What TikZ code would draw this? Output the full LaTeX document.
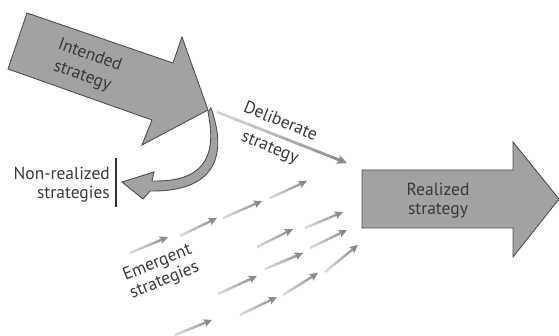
\documentclass[tikz,border=0pt]{standalone}
\usepackage{fontspec}
\setmainfont{PT Sans}
\usetikzlibrary{
  arrows.meta,
  calc,
  positioning
}
\definecolor{stFill}{HTML}{A2A2A2}
\definecolor{stEdge}{HTML}{4E4E4E}
\definecolor{stText}{HTML}{3A3A3A}
\tikzset{
  bigarrow/.style={draw=stEdge, fill=stFill, line width=0.9pt, line join=miter},
  stlabel/.style={font=\fontsize{17.5}{19}\selectfont, text=stText, align=center, inner sep=0pt},
  marker/.style={line width=2pt, black!80}
}
% shaded thin arrow: light tail, darker head
\newcommand{\fadearrow}[3]{%
  \foreach \k in {0,...,6}{%
    \pgfmathtruncatemacro\fadelvl{16+4*\k}%
    \draw[line width=#3, draw=black!\fadelvl] ($(#1)!\k/8!(#2)$) -- ($(#1)!\k/8+1/8!(#2)$);
  }%
  \draw[line width=#3, draw=black!46, fill=black!46, -{Stealth[length=3.4*#3, width=3.2*#3, inset=0.6*#3]}] ($(#1)!7/8!(#2)$) -- (#2);
}

\begin{document}
\begin{tikzpicture}[x=1pt, y=-1pt]
  \useasboundingbox (0,0) rectangle (559,336);

  % big arrows
  \draw[bigarrow] (27,13) -- (173,63) -- (182,37) -- (208,110) -- (142,145) -- (152,120) -- (8,69) -- cycle;
  \draw[bigarrow] (362,170) -- (513,170) -- (513,142) -- (559,199) -- (513,257) -- (513,228) -- (362,228) -- cycle;
  % curl down to the non-realized side
  \draw[bigarrow] (208,112) .. controls (218,160) and (201,182) .. (152,181)
    -- (154,172) -- (122,182) -- (143,199) -- (150,191)
    .. controls (209,192) and (230,162) .. (211,108) -- cycle;
  \draw[marker] (116,158) -- (116,207);

  \node[stlabel, rotate=-20, font=\fontsize{17.5}{22}\selectfont] (intended) at (86,66) {Intended\\strategy};
  \node[stlabel] (realized) at (438,201) {Realized\\strategy};
  \node[stlabel, align=right, anchor=east] (nonreal) at (110,185) {Non-realized\\strategies};
  \node[stlabel, rotate=-22, font=\fontsize{17.5}{28}\selectfont] (deliberate) at (275,135) {Deliberate\\strategy};
  \node[stlabel, rotate=22] (emergent) at (161,272) {Emergent\\strategies};

  \coordinate (delib-s) at (217,112);
  \coordinate (delib-e) at (347,163);
  \fadearrow{delib-s}{delib-e}{2.8pt}

  \foreach \n/\ax/\ay/\bx/\by in {
      1/130/253/168/237, 2/180/236/217/218, 3/223/218/262/201, 4/270/198/307/181,
      5/257/247/293/229, 6/305/228/343/212,
      7/218/294/257/276, 8/265/269/303/253, 9/310/248/347/230,
      10/175/335/212/320, 11/240/315/277/297, 12/283/295/318/273, 13/325/272/358/245}{
    \coordinate (em\n-s) at (\ax,\ay);
    \coordinate (em\n-e) at (\bx,\by);
    \fadearrow{em\n-s}{em\n-e}{2.4pt}
  }
\end{tikzpicture}
\end{document}
